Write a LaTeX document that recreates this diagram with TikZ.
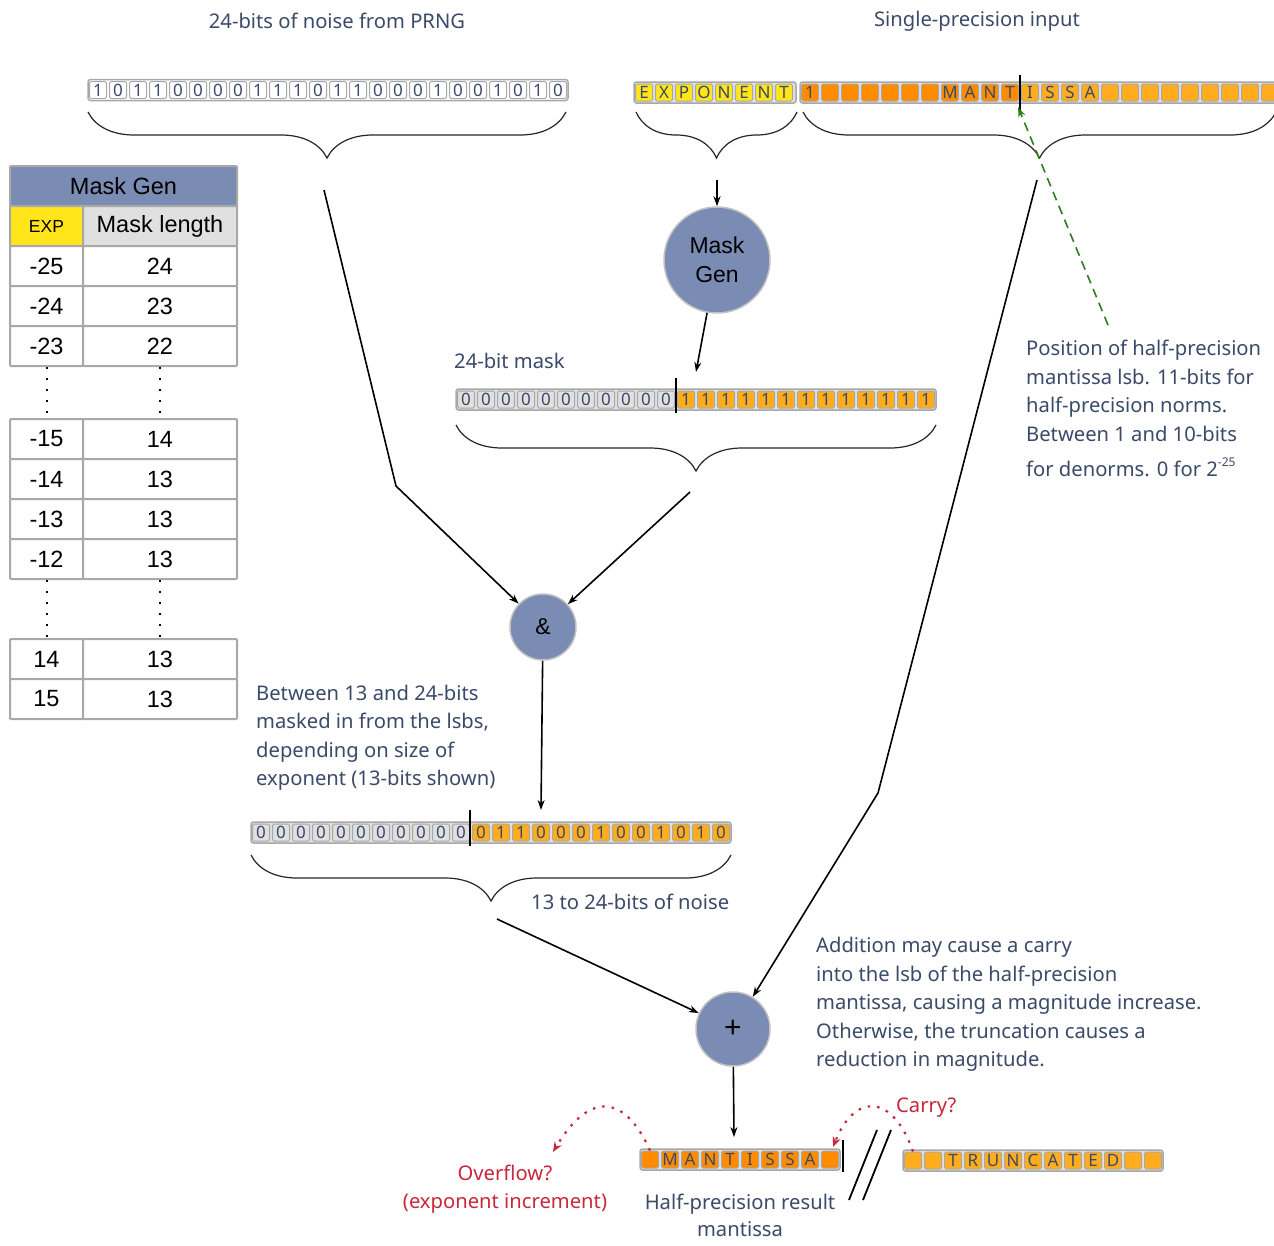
\documentclass[tikz,border=0pt]{standalone}
\usepackage{fontspec}
\setmainfont{Noto Sans}
\newfontfamily\tabfont{Liberation Sans}
\usetikzlibrary{arrows.meta,decorations.pathreplacing}

\definecolor{slate}{HTML}{7B8CB4}
\definecolor{ink}{HTML}{3B4A69}
\definecolor{cellline}{HTML}{A8A8A8}
\definecolor{cellgrey}{HTML}{E0E0E0}
\definecolor{darkorange}{HTML}{FF8C00}
\definecolor{lightorange}{HTML}{FFAD1F}
\definecolor{expyellow}{HTML}{FFE51A}
\definecolor{alertred}{HTML}{C8283A}
\definecolor{lsbgreen}{HTML}{2E7D1E}

\tikzset{
  cell/.style={draw=cellline, line width=1pt, rounded corners=1.5pt, minimum width=17pt, minimum height=17pt, inner sep=0pt, text=ink, font=\fontsize{17}{17}\selectfont},
  frame/.style={draw=cellline, line width=1.5pt, rounded corners=2.5pt},
  bar/.style={line width=2pt, black},
  brace/.style={decorate, decoration={brace, mirror, amplitude=46pt}, line width=1.2pt, black!85},
  conn/.style={line width=1.6pt, -{Stealth[length=10pt, width=7pt]}},
  opnode/.style={circle, fill=slate, draw=cellline!70, line width=1.5pt, inner sep=0pt, align=center, font=\tabfont\fontsize{23}{29}\selectfont},
  tabcell/.style={draw=cellline, line width=2pt, rounded corners=1pt, minimum height=40pt, inner sep=0pt, font=\tabfont\fontsize{23.5}{23.5}\selectfont},
  note/.style={text=ink, align=left, inner sep=0pt, font=\fontsize{20.2}{28.5}\selectfont},
  alert/.style={text=alertred, align=center, inner sep=0pt, font=\fontsize{20.2}{28.5}\selectfont},
}

\begin{document}
\begin{tikzpicture}[x=1pt, y=-1pt]
\useasboundingbox[fill=white] (0,0) rectangle (1274,1245);

% Mask Gen table
\node[tabcell, fill=slate, minimum width=227pt] (hdr) at (123.5,186) {Mask Gen};
\node[tabcell, fill=expyellow, minimum width=73pt, font=\tabfont\fontsize{17.5}{17.5}\selectfont] (hexp) at (46.5,226) {EXP};
\node[tabcell, fill=cellgrey, minimum width=154pt] (hlen) at (160,226) {Mask length};
\foreach \e/\m/\y in {-25/24/266, -24/23/306, -23/22/346, -15/14/439, -14/13/479, -13/13/519, -12/13/559, 14/13/659, 15/13/699} {
  \node[tabcell, fill=white, minimum width=73pt] (exp\e) at (46.5,\y) {\e};
  \node[tabcell, fill=white, minimum width=154pt] (len\e) at (160,\y) {\m};
}
\draw[line width=2pt, dash pattern=on 2pt off 9pt] (exp-23.south) -- (exp-15.north);
\draw[line width=2pt, dash pattern=on 2pt off 9pt] (len-23.south) -- (len-15.north);
\draw[line width=2pt, dash pattern=on 2pt off 9pt] (exp-12.south) -- (exp14.north);
\draw[line width=2pt, dash pattern=on 2pt off 9pt] (len-12.south) -- (len14.north);

% titles
\node[note] (noisettl) at (337,21) {24-bits of noise from PRNG};
\node[note] (inputttl) at (977,21) {Single-precision input};

% noise from PRNG
\draw[frame, fill=white] (88,79.5) rectangle (568,100.5);
\foreach \b [count=\i] in {1,0,1,1,0,0,0,0,1,1,1,0,1,1,0,0,0,1,0,0,1,0,1,0}
  \node[cell, fill=white] (noise-\i) at (78+20*\i, 90) {\b};

% single-precision input
\draw[frame, fill=cellgrey] (634,82) rectangle (796,103);
\foreach \b [count=\i] in {E,X,P,O,N,E,N,T}
  \node[cell, fill=expyellow] (exp-\i) at (624+20*\i, 92.5) {\b};
\draw[frame, fill=cellgrey] (800,82) rectangle (1282,103);
\foreach \b [count=\i] in {1,{},{},{},{},{},{},M,A,N,T}
  \node[cell, fill=darkorange] (man-\i) at (790+20*\i, 92.5) {\b};
\foreach \b [count=\i from 12] in {I,S,S,A,{},{},{},{},{},{},{},{},{}}
  \node[cell, fill=lightorange] (man-\i) at (790+20*\i, 92.5) {\b};
\draw[bar] (1020,75) -- (1020,115);

% braces under the inputs
\draw[brace] (88,112) -- (566,112);
\draw[brace] (636,112) -- (797,112);
\draw[brace] (803,112) -- (1276,112);

\coordinate (noisetip) at (324,190);
\coordinate (noisebend) at (396,486);
\coordinate (exptip) at (717,180);
\coordinate (manttip) at (1037,180);
\coordinate (mantbend) at (878,793);

% mask generation
\node[opnode, minimum size=106pt] (maskgen) at (717,260) {Mask\\Gen};
\draw[conn] (exptip) -- (maskgen);

\node[note, anchor=west] (masklbl) at (454,361) {24-bit mask};
\draw[frame, fill=cellgrey] (456,389) rectangle (936,410);
\foreach \i in {1,...,11}
  \node[cell, fill=cellgrey] (mask-\i) at (446+20*\i, 399.5) {0};
\foreach \i in {12,...,24}
  \node[cell, fill=lightorange] (mask-\i) at (446+20*\i, 399.5) {1};
\draw[bar] (676,378) -- (676,413);
\coordinate (maskin) at (696,372);
\draw[conn] (maskgen) -- (maskin);
\draw[brace] (456,425) -- (936,425);
\coordinate (masktip) at (690,492);

% masking
\node[opnode, minimum size=66pt] (andop) at (543,627) {\&};
\draw[conn] (noisetip) -- (noisebend) -- (andop);
\draw[conn] (masktip) -- (andop);

\node[note, anchor=west] (masknote) at (256,737.5) {Between 13 and 24-bits\\masked in from the lsbs,\\depending on size of\\exponent (13-bits shown)};

\draw[frame, fill=cellgrey] (251,822) rectangle (731,843);
\foreach \i in {1,...,11}
  \node[cell, fill=cellgrey] (res-\i) at (241+20*\i, 832.5) {0};
\foreach \b [count=\i from 12] in {0,1,1,0,0,0,1,0,0,1,0,1,0}
  \node[cell, fill=lightorange] (res-\i) at (241+20*\i, 832.5) {\b};
\draw[bar] (470,810) -- (470,846);
\coordinate (resin) at (541,810);
\draw[conn] (andop) -- (resin);
\draw[brace] (251,855) -- (731,855);
\coordinate (restip) at (497,919);
\node[note, anchor=west] (noiselbl) at (531,902) {13 to 24-bits of noise};

% addition
\node[opnode, minimum size=74pt, font=\tabfont\fontsize{30}{30}\selectfont] (plus) at (733,1029) {+};
\draw[conn] (restip) -- (plus);
\draw[conn] (manttip) -- (mantbend) -- (plus);

\node[note, anchor=north west] (posnote) at (1026,340) {Position of half-precision\\mantissa lsb. 11-bits for\\half-precision norms.\\Between 1 and 10-bits\\[7pt]for denorms. 0 for 2\raisebox{10pt}{\fontsize{12}{12}\selectfont -25}};
\coordinate (lsbnote) at (1108,325);
\draw[dashed, lsbgreen, line width=1.6pt, dash pattern=on 9pt off 6pt, -{Stealth[length=10pt, width=7pt]}] (lsbnote) -- (1018,107);

\node[note, anchor=west] (addnote) at (816,1004.5) {Addition may cause a carry\\into the lsb of the half-precision\\mantissa, causing a magnitude increase.\\Otherwise, the truncation causes a\\reduction in magnitude.};

% half-precision result
\draw[frame, fill=cellgrey] (640,1149) rectangle (840,1170);
\foreach \b [count=\i] in {{},M,A,N,T,I,S,S,A,{}}
  \node[cell, fill=darkorange] (hp-\i) at (630+20*\i, 1159.5) {\b};
\draw[bar] (843,1140) -- (843,1172);
\draw[frame, fill=cellgrey] (903,1150) rectangle (1163,1171);
\foreach \b [count=\i] in {{},{},T,R,U,N,C,A,T,E,D,{},{}}
  \node[cell, fill=lightorange] (tr-\i) at (893+20*\i, 1160.5) {\b};
\coordinate (hpin) at (734,1137);
\draw[conn] (plus) -- (hpin);

\draw[line width=1.8pt] (877,1130) -- (849,1200);
\draw[line width=1.8pt] (891,1130) -- (863,1200);

\node[note, align=center, font=\fontsize{20.2}{27}\selectfont] (hplbl) at (740,1215) {Half-precision result\\mantissa};

\node[alert] (ovflbl) at (505,1189) {Overflow?\\(exponent increment)};
\node[alert, anchor=west] (carrylbl) at (896,1108) {Carry?};
\coordinate (ovfend) at (553,1152);
\coordinate (carryend) at (833,1147);
\draw[alertred, line width=2.2pt, dash pattern=on 2.5pt off 7pt, -{Stealth[length=10pt, width=8pt]}] (hp-1.north) .. controls (625,1095) and (590,1090) .. (ovfend);
\draw[alertred, line width=2.2pt, dash pattern=on 2.5pt off 7pt, -{Stealth[length=10pt, width=8pt]}] (tr-1.north) .. controls (893,1094) and (855,1092) .. (carryend);

\end{tikzpicture}
\end{document}
